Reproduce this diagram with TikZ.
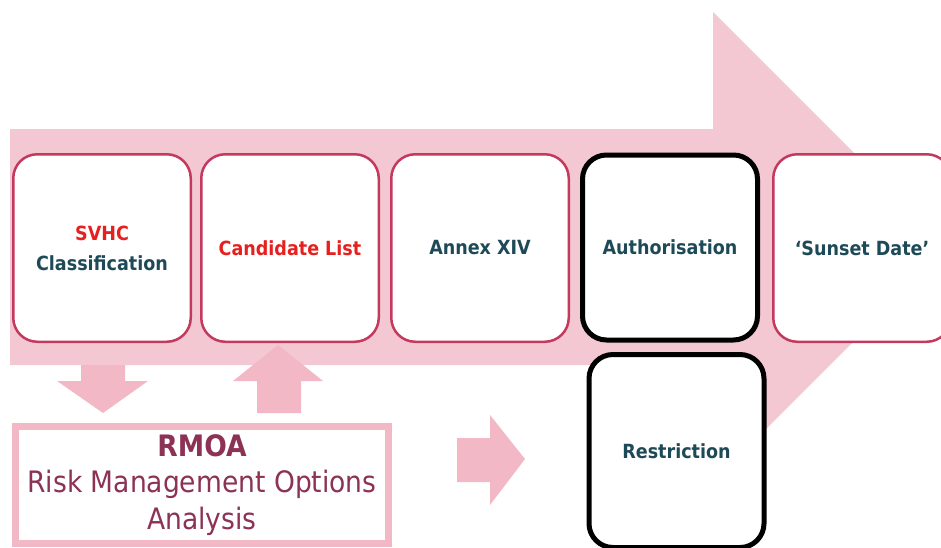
\documentclass[tikz,border=0pt]{standalone}
\usepackage{fontspec}
\setmainfont{DejaVu Sans Condensed}
\definecolor{bigpink}{RGB}{244,200,210}
\definecolor{arrpink}{RGB}{243,184,198}
\definecolor{boxred}{RGB}{196,58,94}
\definecolor{teal}{RGB}{30,74,88}
\definecolor{redtxt}{RGB}{230,32,30}
\definecolor{maroon}{RGB}{140,50,85}
\tikzset{
  stage/.style={draw=boxred, line width=2.5pt, fill=white, rounded corners=24pt,
    minimum width=177.5pt, minimum height=187.5pt, inner sep=0pt,
    font=\bfseries\fontsize{19.5}{30}\selectfont, text=teal, align=center},
  keystage/.style={stage, draw=black, line width=5pt, minimum width=175pt, minimum height=185pt},
  blockarrow/.style={fill=arrpink, draw=none},
}
\begin{document}
\begin{tikzpicture}[x=1pt,y=-1pt]
\useasboundingbox (0,0) rectangle (941,547);
\clip (0,0) rectangle (941,547);
% big process arrow
\fill[bigpink] (10,129) -- (713,129) -- (713,12) -- (948,247) -- (713,482) -- (713,365) -- (10,365) -- cycle;
% small block arrows
\fill[blockarrow] (81,365) -- (125,365) -- (125,381) -- (148,381) -- (103,413) -- (57,381) -- (81,381) -- cycle;
\fill[blockarrow] (257,413) -- (301,413) -- (301,381) -- (323,381) -- (278,345) -- (233,381) -- (257,381) -- cycle;
\fill[blockarrow] (457,438) -- (490,438) -- (490,415) -- (525,459) -- (490,505) -- (490,482) -- (457,482) -- cycle;
% RMOA box
\node[draw=arrpink, line width=7pt, fill=white, minimum width=373pt, minimum height=117pt, inner sep=0pt,
  text=maroon, align=center, font=\fontsize{29.5}{36.5}\selectfont] (rmoa) at (202,485)
  {\textbf{RMOA}\\Risk Management Options\\Analysis};
% stages
\node[stage] (svhc) at (102,248) {\textcolor{redtxt}{SVHC}\\Classification};
\node[stage, text=redtxt] (cand) at (290,248) {Candidate List};
\node[stage] (annex) at (480,248) {Annex XIV};
\node[keystage] (auth) at (670,247.5) {Authorisation};
\node[stage] (sunset) at (862,248) {‘Sunset Date’};
\node[keystage, minimum height=193pt] (restr) at (676.5,451) {Restriction};
\end{tikzpicture}
\end{document}
